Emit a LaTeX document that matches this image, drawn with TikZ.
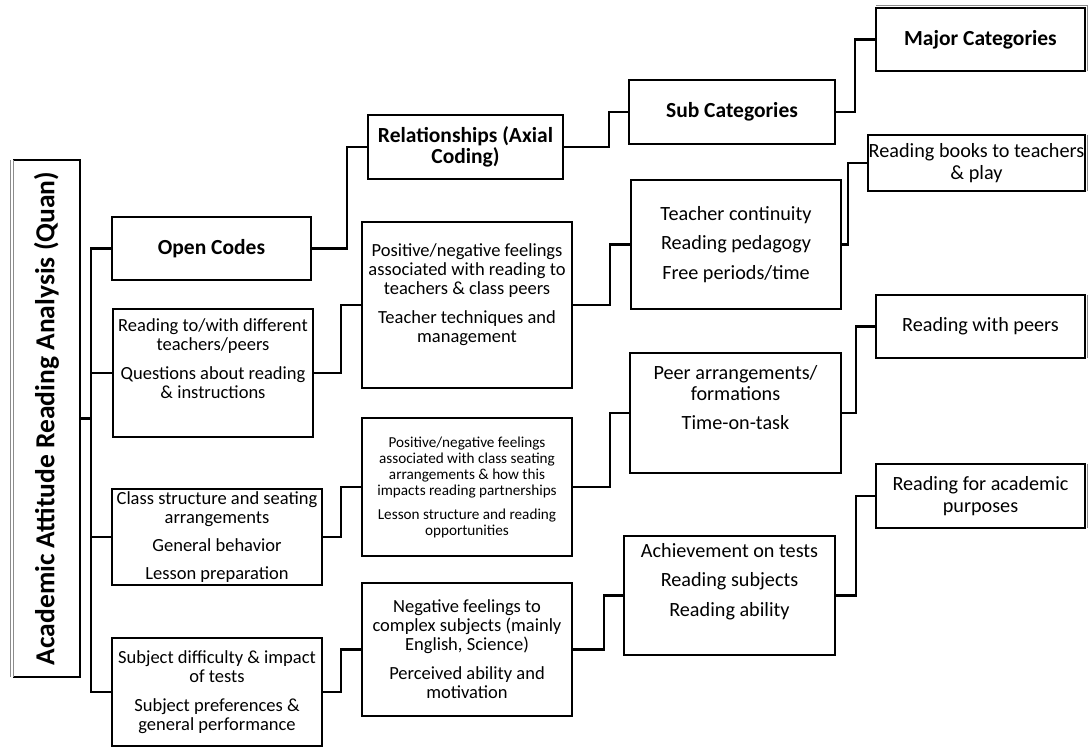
\documentclass[tikz,border=0pt]{standalone}
\usepackage{fontspec}
\setmainfont{Carlito}
\usetikzlibrary{calc}
\tikzset{
  bxs/.style={draw=black, line width=2.9pt, inner sep=0pt, outer sep=0pt, fill=white, anchor=north west},
  conn/.style={draw=black, line width=2.9pt},
  graythin/.style={draw=black!45, line width=0.7pt},
}
\newcommand\reg{\fontsize{18.5}{19}\selectfont}
\newcommand\lrg{\fontsize{20.2}{21.5}\selectfont}
\newcommand\sml{\fontsize{15.2}{16}\selectfont}
\newcommand\bld{\fontsize{21.5}{21}\selectfont\bfseries}
\newcommand\mybx[7]{\node[bxs] (#1) at (#2,#3) {\parbox[c][\dimexpr #5pt-#3pt\relax][#6]{\dimexpr #4pt-#2pt\relax}{\centering #7}};}
\begin{document}
\begin{tikzpicture}[x=1pt,y=-1pt]
\fill[white] (0,0) rectangle (1088,748);
\useasboundingbox (0,0) rectangle (1088,748);

% left title box
\node[inner sep=0pt, outer sep=0pt, anchor=north west, minimum width=67pt, minimum height=517pt] (qa) at (13,160) {};
\node[rotate=90, inner sep=0pt, font=\fontsize{27.5}{28}\selectfont\bfseries] (qat) at (qa.center) {Academic Attitude Reading Analysis (Quan)};
\draw[conn] (qa.north west) -- (qa.north east) -- (qa.south east) -- (qa.south west);
\draw[graythin] (qa.north west) -- (qa.south west);
\draw[graythin] ([xshift=-3pt]qa.north west) -- ([xshift=-3pt]qa.south west);

% column 1
\mybx{oc}{112}{217}{311}{280}{c}{\bld Open Codes}
\mybx{rt}{113}{309}{313}{437}{t}{\reg\vspace*{10pt}Reading to/with different\\ teachers/peers\\[10pt] Questions about reading\\ \& instructions}
\mybx{cs}{112}{489}{322}{585}{c}{\reg Class structure and seating\\ arrangements\\[9pt] General behavior\\[9pt] Lesson preparation}
\mybx{sd}{112}{638}{322}{746}{c}{\reg Subject difficulty \& impact\\ of tests\\[10pt] Subject preferences \&\\ general performance}

% column 2
\mybx{rel}{368}{115}{563}{179}{c}{\bld Relationships (Axial\\ Coding)}
\mybx{p1}{362}{222}{572}{388}{t}{\reg\vspace*{22pt}Positive/negative feelings\\ associated with reading to\\ teachers \& class peers\\[10pt] Teacher techniques and\\ management}
\mybx{p2}{362}{418}{572}{556}{c}{\sml Positive/negative feelings\\ associated with class seating\\ arrangements \& how this\\ impacts reading partnerships\\[8pt] Lesson structure and reading\\ opportunities}
\mybx{ng}{362}{583}{572}{716}{c}{\reg Negative feelings to\\ complex subjects (mainly\\ English, Science)\\[10pt] Perceived ability and\\ motivation}

% column 3
\mybx{sub}{629}{80}{835}{144}{c}{\bld Sub Categories}
\mybx{tc}{631}{180}{841}{309}{c}{\lrg Teacher continuity\\[8pt] Reading pedagogy\\[8pt] Free periods/time}
\mybx{pa}{630}{353}{841}{473}{t}{\lrg\vspace*{12pt}Peer arrangements/\\ formations\\[7pt] Time-on-task}
\mybx{ac}{624}{536}{835}{655}{t}{\lrg\vspace*{7pt}Achievement on tests\\[8pt] Reading subjects\\[8pt] Reading ability}

% column 4
\mybx{maj}{876}{8}{1085}{71}{c}{\bld Major Categories}
\mybx{rb}{868}{135}{1085}{191}{c}{\lrg Reading books to teachers\\ \& play}
\mybx{rp}{876}{295}{1085}{358}{c}{\lrg Reading with peers}
\mybx{ra}{876}{464}{1085}{528}{c}{\lrg Reading for academic\\ purposes}

% gray edge traces on right boxes
\draw[graythin] ([yshift=3pt]maj.north west) -- ([yshift=3pt,xshift=2.5pt]maj.north east) -- ([xshift=2.5pt]maj.south east);
\draw[graythin] ([xshift=2.5pt]rb.north east) -- ([xshift=2.5pt]rb.south east);
\draw[graythin] ([xshift=2.5pt]rp.north east) -- ([xshift=2.5pt]rp.south east);
\draw[graythin] ([xshift=2.5pt]ra.north east) -- ([xshift=2.5pt]ra.south east);

% trunk connectors
\coordinate (trunk) at (91,0);
\draw[conn] (oc.west) -| (trunk |- sd.west) -- (sd.west);
\draw[conn] (qa.east) -- (trunk |- qa.east);
\draw[conn] (rt.west) -- (trunk |- rt.west);
\draw[conn] (cs.west) -- (trunk |- cs.west);

% elbow connectors
\draw[conn] (oc.east) -- ++(36,0) |- (rel.west);
\draw[conn] (rt.east) -- ++(28,0) |- (p1.west);
\draw[conn] (cs.east) -- ++(19,0) |- (p2.west);
\draw[conn] (sd.east) -- ++(19,0) |- (ng.west);
\draw[conn] (rel.east) -- ++(46,0) |- (sub.west);
\draw[conn] (p1.east) -- ++(38,0) |- (tc.west);
\draw[conn] (p2.east) -- ++(38,0) |- (pa.west);
\draw[conn] (ng.east) -- ++(32,0) |- (ac.west);
\draw[conn] (sub.east) -- ++(20,0) |- (maj.west);
\draw[conn] (tc.east) -- ++(7,0) |- (rb.west);
\draw[conn] (pa.east) -- ++(15,0) |- (rp.west);
\draw[conn] (ac.east) -- ++(21,0) |- (ra.west);
\end{tikzpicture}
\end{document}
